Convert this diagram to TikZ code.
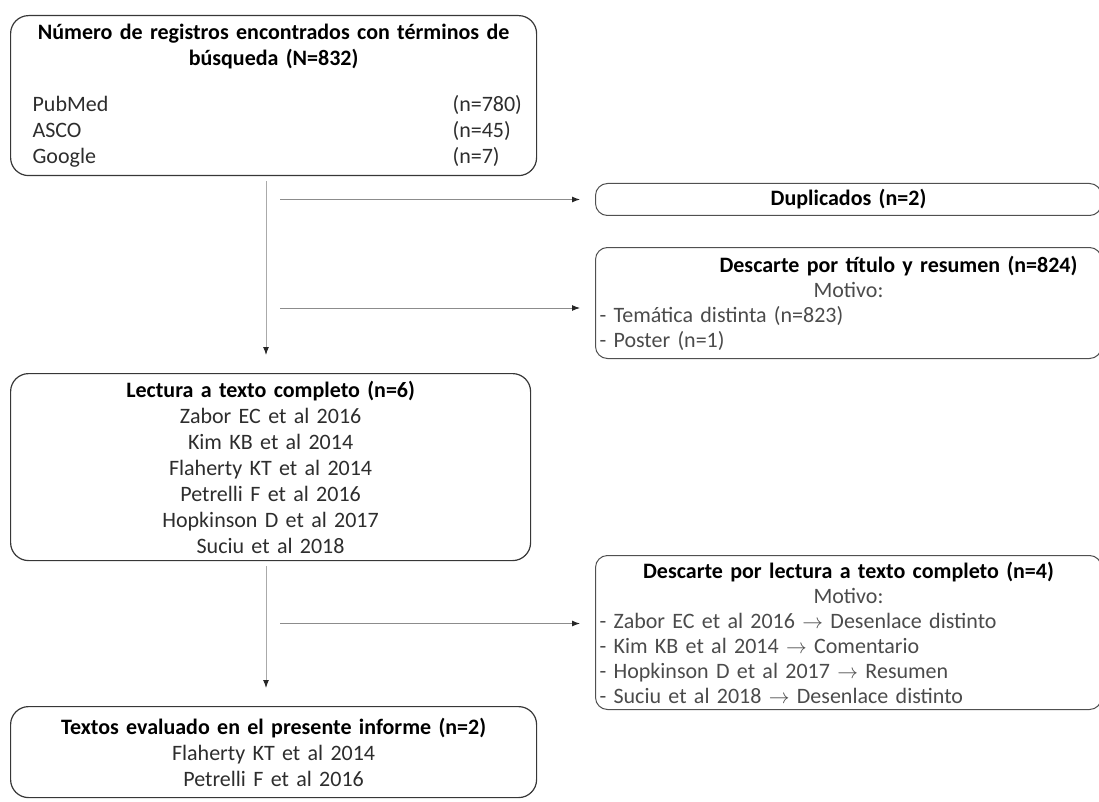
\documentclass[tikz,border=0pt]{standalone}
\usepackage{fontspec}
\setmainfont{Carlito}
\usetikzlibrary{arrows.meta}

\newcommand{\fuente}[2]{\makebox[\linewidth][l]{\hspace{18pt}#1\hfill\makebox[80pt][l]{#2}}}
\newcommand{\motivo}[1]{\makebox[\linewidth][l]{- #1}}

\begin{document}
\begin{tikzpicture}[x=1pt,y=-1pt,
    box/.style={draw=boxline, line width=1.2pt, rounded corners=18pt, anchor=north west,
        inner xsep=4pt, inner ysep=3pt, align=center,
        font=\fontsize{22}{26}\selectfont, text=textgray},
    sidebox/.style={box, draw=sideline, line width=1pt, rounded corners=12pt, text width=498pt,
        font=\fontsize{22}{25}\selectfont, text=sidegray},
    spineline/.style={draw=spinegray, line width=1pt,
        -{Latex[length=8pt,width=6pt,color=black!85]}},
    branch/.style={spineline, draw=branchgray}]
    % Цвета
    \definecolor{boxline}{RGB}{55,55,55}
    \definecolor{sideline}{RGB}{80,80,80}
    \definecolor{textgray}{RGB}{45,45,45}
    \definecolor{sidegray}{RGB}{75,75,75}
    \definecolor{spinegray}{RGB}{170,170,170}
    \definecolor{branchgray}{RGB}{140,140,140}

    \useasboundingbox (0,0) rectangle (1099,802);

    % Блоки
    \node[box, text width=518pt, minimum height=160pt] (reg) at (10,15) {
        {\bfseries\color{black} Número de registros encontrados con términos de\\ búsqueda (N=832)}\\[20pt]
        \fuente{PubMed}{(n=780)}\\
        \fuente{ASCO}{(n=45)}\\
        \fuente{Google}{(n=7)}
    };
    \node[sidebox, minimum height=32pt] (dup) at (595,183) {
        {\bfseries\color{black} Duplicados (n=2)}
    };
    \node[sidebox, minimum height=111pt] (tit) at (595,247) {
        \hspace*{100pt}{\bfseries\color{black} Descarte por título y resumen (n=824)}\\
        Motivo:\\
        \motivo{Temática distinta (n=823)}\\
        \motivo{Poster (n=1)}
    };
    \node[box, text width=512pt, minimum height=187pt] (lect) at (10,373) {
        {\bfseries\color{black} Lectura a texto completo (n=6)}\\
        Zabor EC et al 2016\\
        Kim KB et al 2014\\
        Flaherty KT et al 2014\\
        Petrelli F et al 2016\\
        Hopkinson D et al 2017\\
        Suciu et al 2018
    };
    \node[sidebox, minimum height=154pt] (full) at (595,555) {
        {\bfseries\color{black} Descarte por lectura a texto completo (n=4)}\\
        Motivo:\\
        \motivo{Zabor EC et al 2016 $\rightarrow$ Desenlace distinto}\\
        \motivo{Kim KB et al 2014 $\rightarrow$ Comentario}\\
        \motivo{Hopkinson D et al 2017 $\rightarrow$ Resumen}\\
        \motivo{Suciu et al 2018 $\rightarrow$ Desenlace distinto}
    };
    \node[box, text width=518pt, minimum height=91pt] (final) at (10,706) {
        {\bfseries\color{black} Textos evaluado en el presente informe (n=2)}\\
        Flaherty KT et al 2014\\
        Petrelli F et al 2016
    };

    % Стрелки
    \coordinate (spine) at (266,0);
    \coordinate (titin) at ([yshift=-5pt]tit.west);
    \coordinate (fullin) at ([yshift=9pt]full.west);
    \draw[spineline, shorten <=5pt, shorten >=18pt] (reg.south -| spine) -- (lect.north -| spine);
    \draw[spineline, shorten <=5pt, shorten >=18pt] (lect.south -| spine) -- (final.north -| spine);
    \draw[branch, shorten <=14pt, shorten >=15pt] (spine |- dup.west) -- (dup.west);
    \draw[branch, shorten <=14pt, shorten >=15pt] (spine |- titin) -- (titin);
    \draw[branch, shorten <=14pt, shorten >=15pt] (spine |- fullin) -- (fullin);
\end{tikzpicture}
\end{document}
